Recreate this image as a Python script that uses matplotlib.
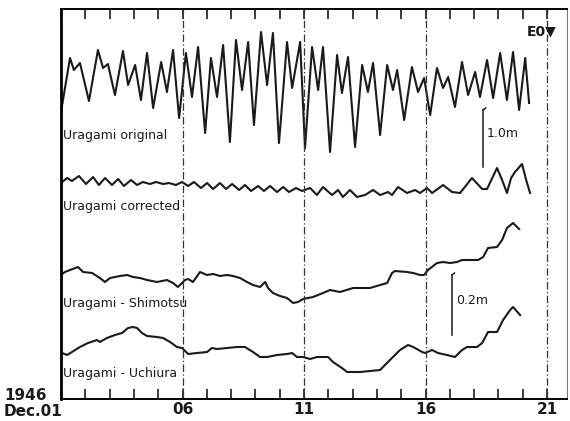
import matplotlib
matplotlib.use("Agg")
import matplotlib.pyplot as plt
from matplotlib.ticker import FixedLocator, MultipleLocator

# ---- data (time in days of Dec. 1946, vertical = trace position read from the record, down = larger) ----
orig_day = [1.00, 1.37, 1.53, 1.78, 2.15, 2.52, 2.73, 2.93, 3.22, 3.55,
            3.76, 4.05, 4.29, 4.54, 4.79, 5.12, 5.36, 5.61, 5.86, 6.14,
            6.39, 6.64, 6.93, 7.17, 7.42, 7.67, 7.95, 8.20, 8.45, 8.70,
            8.94, 9.23, 9.48, 9.72, 9.97, 10.30, 10.51, 10.84, 11.04, 11.33,
            11.58, 11.78, 12.07, 12.36, 12.56, 12.81, 13.10, 13.39, 13.63, 13.84,
            14.13, 14.42, 14.66, 14.83, 15.12, 15.44, 15.69, 15.94, 16.19, 16.47,
            16.72, 16.93, 17.21, 17.50, 17.75, 18.04, 18.24, 18.53, 18.78, 19.07,
            19.35, 19.60, 19.85, 20.10, 20.26]
orig_val = [112, 58, 70, 63, 101, 50, 68, 64, 95, 51,
            85, 65, 100, 53, 108, 62, 92, 50, 118, 53,
            97, 47, 133, 58, 97, 45, 142, 40, 90, 42,
            125, 32, 85, 33, 143, 42, 88, 42, 148, 47,
            90, 47, 152, 55, 93, 57, 147, 65, 92, 63,
            135, 65, 90, 70, 120, 67, 92, 78, 115, 68,
            88, 77, 107, 62, 95, 72, 97, 60, 98, 53,
            100, 52, 110, 58, 103]

corr_day = [1.00, 1.25, 1.45, 1.74, 2.03, 2.32, 2.56, 2.81, 3.10, 3.35,
            3.59, 3.88, 4.13, 4.37, 4.66, 4.91, 5.20, 5.44, 5.73, 5.98,
            6.23, 6.47, 6.76, 7.01, 7.26, 7.54, 7.79, 8.04, 8.33, 8.57,
            8.82, 9.11, 9.35, 9.60, 9.89, 10.14, 10.38, 10.67, 10.92, 11.25,
            11.53, 11.78, 12.15, 12.40, 12.60, 12.89, 13.18, 13.51, 13.84, 14.13,
            14.46, 14.62, 14.87, 15.24, 15.57, 15.77, 16.06, 16.27, 16.72, 17.09,
            17.42, 17.91, 18.33, 18.53, 18.94, 19.15, 19.35, 19.52, 19.68, 19.97,
            20.14, 20.30]
corr_val = [183, 178, 181, 176, 184, 177, 185, 178, 185, 179,
            186, 180, 185, 182, 184, 182, 184, 183, 185, 182,
            186, 182, 188, 183, 189, 183, 189, 184, 190, 185,
            191, 186, 191, 186, 192, 187, 192, 188, 191, 188,
            195, 187, 195, 190, 197, 190, 197, 195, 190, 195,
            192, 195, 187, 193, 190, 193, 188, 193, 185, 192,
            193, 178, 189, 189, 168, 180, 193, 178, 172, 164,
            180, 193]

shim_day = [1.00, 1.16, 1.70, 1.91, 2.28, 2.60, 2.81, 3.02, 3.43, 3.72,
            3.96, 4.25, 4.54, 4.95, 5.36, 5.61, 5.81, 5.98, 6.10, 6.23,
            6.43, 6.72, 7.01, 7.26, 7.54, 7.83, 8.08, 8.37, 8.65, 8.90,
            9.19, 9.40, 9.52, 9.72, 10.01, 10.30, 10.55, 10.75, 10.96, 11.37,
            11.78, 12.07, 12.48, 13.02, 13.72, 14.13, 14.42, 14.62, 14.74, 15.24,
            15.49, 15.77, 15.94, 16.10, 16.47, 16.72, 17.01, 17.30, 17.50, 17.83,
            18.16, 18.37, 18.57, 18.94, 19.15, 19.35, 19.60, 19.85]
shim_val = [275, 272, 267, 272, 273, 278, 282, 278, 276, 275,
            277, 278, 280, 282, 280, 283, 287, 283, 280, 279,
            282, 272, 275, 274, 276, 275, 276, 278, 282, 285,
            287, 282, 288, 293, 296, 298, 303, 302, 299, 297,
            293, 290, 292, 288, 288, 285, 283, 273, 271, 272,
            273, 275, 275, 270, 263, 262, 263, 262, 260, 260,
            260, 257, 248, 247, 240, 228, 223, 229]

uchi_day = [1.04, 1.25, 1.45, 1.78, 2.11, 2.48, 2.60, 2.89, 3.22, 3.51,
            3.76, 3.96, 4.13, 4.33, 4.54, 4.95, 5.20, 5.49, 5.77, 5.98,
            6.23, 6.60, 7.01, 7.21, 7.42, 7.83, 8.24, 8.57, 8.90, 9.19,
            9.48, 9.89, 10.30, 10.51, 10.71, 10.96, 11.25, 11.53, 11.99, 12.19,
            12.56, 12.77, 13.30, 13.72, 14.13, 14.33, 14.66, 14.95, 15.28, 15.49,
            15.86, 15.98, 16.27, 16.51, 16.88, 17.21, 17.50, 17.71, 18.12, 18.33,
            18.57, 18.94, 19.19, 19.48, 19.60, 19.89]
uchi_val = [353, 355, 352, 347, 343, 340, 342, 338, 335, 333,
            328, 327, 328, 333, 336, 337, 338, 342, 347, 348,
            354, 353, 352, 348, 349, 348, 347, 347, 352, 357,
            357, 355, 354, 353, 357, 357, 359, 357, 357, 362,
            368, 372, 372, 371, 370, 365, 357, 350, 345, 347,
            352, 353, 350, 353, 355, 357, 350, 347, 347, 343,
            332, 332, 320, 310, 307, 315]

series_labels = ["Uragami original", "Uragami corrected",
                 "Uragami - Shimotsu", "Uragami - Uchiura"]
tick_days = [6, 11, 16, 21]
tick_labels = ["06", "11", "16", "21"]

# ---- figure ----
fig = plt.figure(figsize=(5.70, 4.21), dpi=100)
ax = fig.add_axes([61 / 570, 22 / 421, 506 / 570, 390 / 421])
ax.set_xlim(1, 21.82)
ax.set_ylim(399, 9)

ink = "#1a1a1a"
for d, v in [(orig_day, orig_val), (corr_day, corr_val),
             (shim_day, shim_val), (uchi_day, uchi_val)]:
    ax.plot(d, v, color=ink, lw=1.5, solid_joinstyle="round")

for td in tick_days:
    ax.axvline(td, color="#333333", lw=0.9, ls=(0, (6, 2, 1, 2)))

# series labels
label_pos = [(1.1, 135), (1.1, 206), (1.1, 303), (1.1, 373)]
for (lx, ly), lab in zip(label_pos, series_labels):
    ax.text(lx, ly, lab, fontsize=9, color=ink, va="center", ha="left",
            family="DejaVu Sans")

# scale bars
def scale_bar(x, y0, y1, text):
    ax.plot([x, x], [y0, y1], color=ink, lw=1.1)
    ax.plot([x, x + 0.1], [y0, y0 - 2], color=ink, lw=1.1)
    ax.text(x + 0.15, (y0 + y1) / 2 - 5, text, fontsize=9, color=ink,
            va="center", ha="left")

scale_bar(18.37, 110, 167, "1.0m")
scale_bar(17.09, 275, 335, "0.2m")

ax.text(21.40, 31, "E0\u25BC", fontsize=10, color=ink, ha="right",
        va="center", fontweight="bold")

# axes styling
ax.set_yticks([])
ax.xaxis.set_major_locator(FixedLocator(tick_days))
ax.set_xticklabels(tick_labels, fontsize=11, fontweight="bold")
ax.xaxis.set_minor_locator(MultipleLocator(1))
ax.tick_params(axis="x", which="both", direction="in", top=True, bottom=True,
               length=7, width=1.2, color=ink, pad=2.5)
ax.tick_params(axis="x", which="major", labelcolor=ink)
for s in ["top", "bottom"]:
    ax.spines[s].set_linewidth(1.4)
ax.spines["left"].set_linewidth(2.0)
ax.spines["right"].set_linewidth(0.8)
ax.spines["right"].set_color("#777777")

fig.text(4 / 570, 1 - 400 / 421, "1946", fontsize=11, fontweight="bold",
         color=ink, ha="left", va="baseline")
fig.text(4 / 570, 1 - 416 / 421, "Dec.01", fontsize=11, fontweight="bold",
         color=ink, ha="left", va="baseline")

fig.savefig("out.png", dpi=100)
